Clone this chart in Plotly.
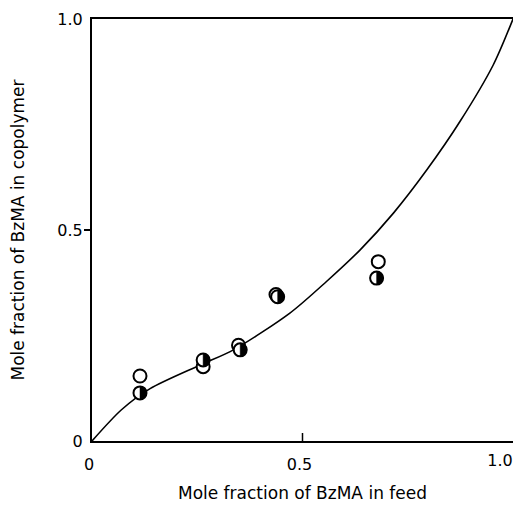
import plotly.graph_objects as go

# Data
curve_x = [0.0, 0.07, 0.138, 0.257, 0.336, 0.47, 0.557, 0.637, 0.716, 0.795, 0.874, 0.953, 1.0]
curve_y = [0.0, 0.074, 0.124, 0.180, 0.216, 0.303, 0.378, 0.453, 0.540, 0.642, 0.757, 0.891, 1.0]

open_x = [0.114, 0.264, 0.348, 0.437, 0.680]
open_y = [0.154, 0.176, 0.227, 0.347, 0.425]

half_x = [0.114, 0.264, 0.352, 0.441, 0.676]
half_y = [0.114, 0.192, 0.216, 0.342, 0.386]

tick_vals = [0, 0.5, 1.0]
tick_text = ["0", "0.5", "1.0"]

x_title = "Mole fraction of BzMA in feed"
y_title = "Mole fraction of BzMA in copolymer"

FONT = "DejaVu Sans, Liberation Sans, sans-serif"
R = 6.5  # marker radius in px

fig = go.Figure()
fig.add_trace(go.Scatter(x=curve_x, y=curve_y, mode="lines",
                         line=dict(color="black", width=1.6, shape="spline", smoothing=0.8),
                         hoverinfo="skip", showlegend=False))
fig.add_trace(go.Scatter(x=open_x, y=open_y, mode="markers",
                         marker=dict(symbol="circle", size=2 * R, color="white",
                                     line=dict(color="black", width=2)),
                         showlegend=False))
fig.add_trace(go.Scatter(x=half_x, y=half_y, mode="markers",
                         marker=dict(symbol="circle", size=2 * R, color="white",
                                     line=dict(color="black", width=2)),
                         showlegend=False))

k = 0.5523 * R
half_path = (f"M 0,{-R} C {k},{-R} {R},{-k} {R},0 "
             f"C {R},{k} {k},{R} 0,{R} Z")
shapes = []
for hx, hy in zip(half_x, half_y):
    shapes.append(dict(type="path", xref="x", yref="y", xsizemode="pixel", ysizemode="pixel",
                       xanchor=hx, yanchor=hy, path=half_path,
                       fillcolor="black", line=dict(color="black", width=0.5), layer="above"))
# inward tick mark on the x axis at 0.5 (the part outside the plot area is clipped)
shapes.append(dict(type="line", xref="x", yref="y", ysizemode="pixel", yanchor=tick_vals[0],
                   x0=tick_vals[1], x1=tick_vals[1], y0=-8, y1=8,
                   line=dict(color="black", width=1.5), layer="above"))

fig.update_layout(
    width=513, height=498,
    margin=dict(l=84, r=8, t=11, b=65, autoexpand=False),
    paper_bgcolor="white", plot_bgcolor="white",
    font=dict(family=FONT, color="black", size=16),
    shapes=shapes,
    xaxis=dict(range=[0, 1], tickvals=tick_vals[:2], ticktext=tick_text[:2], ticks="",
               showgrid=False, zeroline=False, showline=True, mirror=True,
               linecolor="black", linewidth=2, ticklabelstandoff=8, automargin=False,
               ticklabelshift=-3, ticklabeloverflow="allow",
               title=dict(text=x_title, font=dict(size=17), standoff=14)),
    yaxis=dict(range=[0, 1], tickvals=tick_vals, ticktext=tick_text, ticks="",
               showgrid=False, zeroline=False, showline=True, mirror=True,
               linecolor="black", linewidth=2, ticklabelstandoff=4, automargin=False,
               ticklabeloverflow="allow",
               title=dict(text=y_title, font=dict(size=17), standoff=30)),
    xaxis3=dict(overlaying="x", side="bottom", range=[0, 1], tickvals=tick_vals[2:],
                ticktext=tick_text[2:], ticks="", showticklabels=True, showgrid=False,
                zeroline=False, showline=False, automargin=False, ticklabelstandoff=8,
                ticklabelshift=-13, ticklabeloverflow="allow"),
    yaxis2=dict(overlaying="y", range=[0, 1], tickvals=[0.5], ticks="outside", ticklen=7,
                tickwidth=1.5, tickcolor="black", showticklabels=False, showgrid=False,
                zeroline=False, showline=False, automargin=False),
)
fig.add_trace(go.Scatter(x=[0.5], y=[0.5], xaxis="x", yaxis="y2", mode="markers",
                         marker=dict(opacity=0), hoverinfo="skip", showlegend=False))
fig.add_trace(go.Scatter(x=[0.5], y=[0.5], xaxis="x3", yaxis="y", mode="markers",
                         marker=dict(opacity=0), hoverinfo="skip", showlegend=False))

fig.write_html("out.html")
